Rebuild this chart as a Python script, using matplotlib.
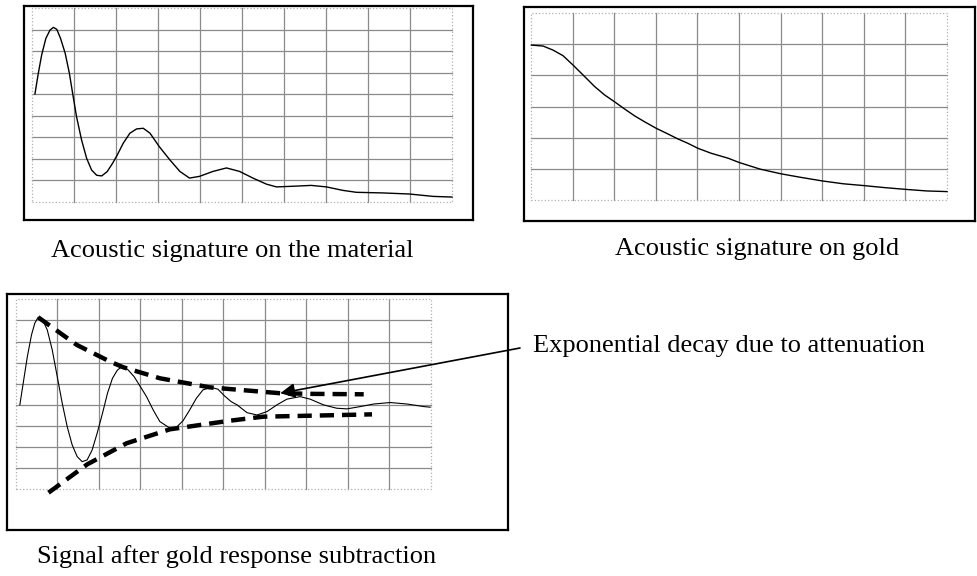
import numpy as np
import matplotlib
matplotlib.use('Agg')
import matplotlib.pyplot as plt
from matplotlib.patches import Rectangle

#%% values (grid divisions)

# acoustic signature on the material (10 x 9 grid)
mat_x = [0.07, 0.15, 0.23, 0.33, 0.43, 0.51, 0.59, 0.68, 0.79, 0.89, 0.97, 1.06,
         1.18, 1.30, 1.42, 1.54, 1.66, 1.79, 1.92, 2.03, 2.17, 2.33, 2.49, 2.65,
         2.81, 3.03, 3.28, 3.52, 3.75, 3.99, 4.31, 4.63, 4.94, 5.26, 5.58, 5.82,
         6.21, 6.65, 7.01, 7.40, 7.72, 8.36, 8.99, 9.55, 10.0]
mat_y = [5.01, 5.97, 6.82, 7.59, 7.98, 8.10, 8.01, 7.59, 6.90, 5.97, 5.01, 3.96,
         2.88, 2.03, 1.48, 1.24, 1.21, 1.41, 1.80, 2.18, 2.72, 3.19, 3.39, 3.42,
         3.19, 2.57, 1.96, 1.42, 1.11, 1.19, 1.42, 1.58, 1.42, 1.11, 0.83, 0.70,
         0.73, 0.77, 0.70, 0.54, 0.45, 0.42, 0.37, 0.26, 0.23]

# acoustic signature on gold (10 x 6 grid)
gold_x = [0.01, 0.29, 0.53, 0.77, 1.01, 1.29, 1.53, 1.77, 2.01, 2.25, 2.49, 2.73,
          3.01, 3.29, 3.53, 3.77, 4.01, 4.33, 4.74, 5.01, 5.51, 6.01, 6.47, 7.01,
          7.51, 8.02, 8.48, 9.01, 9.52, 10.0]
gold_y = [4.97, 4.94, 4.81, 4.63, 4.33, 3.96, 3.64, 3.37, 3.15, 2.92, 2.70, 2.51,
          2.30, 2.12, 1.96, 1.82, 1.66, 1.50, 1.34, 1.20, 0.99, 0.84, 0.73, 0.61,
          0.52, 0.46, 0.40, 0.34, 0.29, 0.27]

# signal after gold response subtraction (10 x 9 grid, zero at 4)
sub_x = [0.10, 0.18, 0.28, 0.38, 0.46, 0.54, 0.64, 0.76, 0.88, 1.00, 1.12, 1.24,
         1.36, 1.48, 1.60, 1.72, 1.84, 1.96, 2.09, 2.21, 2.33, 2.45, 2.54, 2.69,
         2.85, 3.05, 3.15, 3.31, 3.47, 3.71, 3.87, 4.03, 4.19, 4.35, 4.51, 4.71,
         4.87, 5.03, 5.19, 5.33, 5.57, 5.81, 6.05, 6.29, 6.53, 6.85, 7.09, 7.41,
         7.73, 7.98, 8.30, 8.62, 9.02, 9.42, 9.82, 9.98]
sub_y = [4.0, 5.02, 6.28, 7.31, 7.87, 8.15, 8.06, 7.55, 6.60, 5.34, 4.08, 2.97,
         2.10, 1.55, 1.31, 1.39, 1.86, 2.65, 3.60, 4.55, 5.26, 5.65, 5.78, 5.69,
         5.34, 4.71, 4.39, 3.76, 3.21, 2.90, 2.94, 3.25, 3.76, 4.31, 4.71, 4.83,
         4.74, 4.42, 4.15, 4.0, 3.63, 3.52, 3.68, 4.0, 4.27, 4.39, 4.27, 4.0,
         3.84, 3.81, 3.92, 4.04, 4.11, 4.04, 3.92, 3.89]

# dashed envelopes
env_hi_x = [0.54, 1.47, 2.27, 2.59, 3.47, 4.67, 5.39, 6.37, 7.17, 8.38]
env_hi_y = [8.15, 6.84, 6.05, 5.78, 5.26, 4.83, 4.71, 4.55, 4.52, 4.50]
env_lo_x = [0.79, 1.72, 2.67, 3.71, 5.16, 5.96, 7.17, 8.58]
env_lo_y = [-0.16, 1.18, 2.18, 2.84, 3.25, 3.44, 3.49, 3.55]

captions = ['Acoustic signature on the material',
            'Acoustic signature on gold',
            'Signal after gold response subtraction']
note = 'Exponential decay due to attenuation'
arrow_tip = (6.37, 4.55)

#%% layout helpers (pixel geometry of the 978x576 picture)

W, H = 978, 576
plt.rcParams['font.family'] = ['Liberation Serif', 'DejaVu Serif']

fig = plt.figure(figsize=(W / 100, H / 100), dpi=100)


def panel(box, grid, ncol, nrow):
    # box and grid are (left, top, right, bottom) in pixels
    bl, bt, br, bb = box
    gl, gt, gr, gb = grid
    ax = fig.add_axes([bl / W, 1 - bb / H, (br - bl) / W, (bb - bt) / H])
    dx = (gr - gl) / ncol
    dy = (gb - gt) / nrow
    ax.set_xlim(-(gl - bl) / dx, ncol + (br - gr) / dx)
    ax.set_ylim(-(bb - gb) / dy, nrow + (gt - bt) / dy)
    for i in range(1, ncol):
        ax.plot([i, i], [0, nrow], color='#8a8a8a', lw=0.9, zorder=1)
    for j in range(1, nrow):
        ax.plot([0, ncol], [j, j], color='#8a8a8a', lw=0.9, zorder=1)
    ax.add_patch(Rectangle((0, 0), ncol, nrow, fill=False, ec='#b0b0b0',
                           lw=0.9, ls=':', zorder=1))
    ax.set_xticks([])
    ax.set_yticks([])
    for s in ax.spines.values():
        s.set_linewidth(1.6)
        s.set_color('black')
    return ax


ax1 = panel((24, 6, 473, 220), (32, 8, 452, 202), 10, 9)
ax1.plot(mat_x, mat_y, color='black', lw=1.0, zorder=3)

ax2 = panel((524, 7, 975, 221), (531, 13, 947, 200), 10, 6)
ax2.plot(gold_x, gold_y, color='black', lw=1.0, zorder=3)

ax3 = panel((7, 294, 508, 530), (15.7, 299.3, 431, 489.3), 10, 9)
ax3.plot(sub_x, sub_y, color='black', lw=0.8, zorder=3)
ax3.plot(env_hi_x, env_hi_y, color='black', lw=3.2, dashes=(3.2, 1.8), zorder=4)
ax3.plot(env_lo_x, env_lo_y, color='black', lw=3.2, dashes=(3.2, 1.8), zorder=4)

ax3.annotate('', xy=arrow_tip, xycoords='data',
             xytext=(520, H - 348), textcoords='figure pixels',
             arrowprops=dict(arrowstyle='-|>', color='black', lw=1.2,
                             mutation_scale=22, shrinkA=0, shrinkB=0),
             annotation_clip=False, zorder=5)

fs = 19
fig.text(232 / W, 1 - 251 / H, captions[0], ha='center', va='center', fontsize=fs)
fig.text(757 / W, 1 - 249 / H, captions[1], ha='center', va='center', fontsize=fs)
fig.text(237 / W, 1 - 557 / H, captions[2], ha='center', va='center', fontsize=fs)
fig.text(533 / W, 1 - 346 / H, note, ha='left', va='center', fontsize=fs)

fig.savefig('out.png', dpi=100)
